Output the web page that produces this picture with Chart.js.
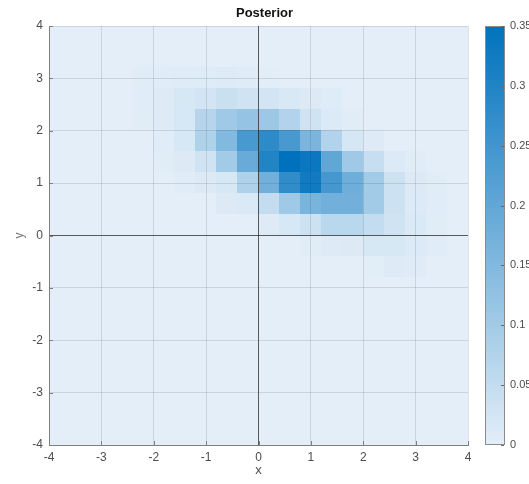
<!DOCTYPE html>
<html>
<head>
<meta charset="utf-8">
<script src="https://cdn.jsdelivr.net/npm/chart.js@4.4.0/dist/chart.umd.min.js"></script>
<style>
  html, body { margin: 0; padding: 0; background: #fff; }
  canvas { display: block; }
</style>
</head>
<body>
<canvas id="post" width="529" height="484"></canvas>
<script>
// bin centres of the 2-D histogram (0.4 wide bins)
const xBins = [-3.8, -3.4, -3.0, -2.6, -2.2, -1.8, -1.4, -1.0, -0.6, -0.2,
                0.2,  0.6,  1.0,  1.4,  1.8,  2.2,  2.6,  3.0,  3.4,  3.8];
const yBins = [ 3.8,  3.4,  3.0,  2.6,  2.2,  1.8,  1.4,  1.0,  0.6,  0.2,
               -0.2, -0.6, -1.0, -1.4, -1.8, -2.2, -2.6, -3.0, -3.4, -3.8];
const binWidth = 0.4;

// posterior mass per bin, one row per yBins entry (top row first)
const density = [
  [0,0,0,0,0,0,0,0,0,0,0,0,0,0,0,0,0,0,0,0],
  [0,0,0,0,0,0,0,0,0,0,0,0,0,0,0,0,0,0,0,0],
  [0,0,0,0,0.004,0.005,0.006,0.007,0.008,0.006,0.003,0,0,0,0,0,0,0,0,0],
  [0,0,0,0,0.005,0.008,0.018,0.025,0.040,0.030,0.025,0.016,0.010,0.007,0,0,0,0,0,0],
  [0,0,0,0,0.004,0.008,0.020,0.070,0.105,0.120,0.110,0.075,0.030,0.012,0.004,0,0,0,0,0],
  [0,0,0,0,0,0.005,0.020,0.080,0.150,0.240,0.280,0.240,0.160,0.075,0.022,0.008,0,0,0,0],
  [0,0,0,0,0,0.004,0.010,0.030,0.100,0.190,0.300,0.350,0.335,0.200,0.105,0.045,0.012,0.004,0,0],
  [0,0,0,0,0,0,0.005,0.010,0.018,0.080,0.175,0.275,0.325,0.245,0.180,0.100,0.035,0.010,0.004,0],
  [0,0,0,0,0,0,0,0,0.010,0.015,0.050,0.105,0.165,0.175,0.175,0.100,0.035,0.012,0.005,0],
  [0,0,0,0,0,0,0,0,0,0,0.008,0.020,0.035,0.065,0.065,0.050,0.030,0.015,0.004,0],
  [0,0,0,0,0,0,0,0,0,0,0,0,0.004,0.008,0.010,0.018,0.018,0.012,0.005,0],
  [0,0,0,0,0,0,0,0,0,0,0,0,0,0,0,0.003,0.008,0.006,0,0],
  [0,0,0,0,0,0,0,0,0,0,0,0,0,0,0,0,0,0,0,0],
  [0,0,0,0,0,0,0,0,0,0,0,0,0,0,0,0,0,0,0,0],
  [0,0,0,0,0,0,0,0,0,0,0,0,0,0,0,0,0,0,0,0],
  [0,0,0,0,0,0,0,0,0,0,0,0,0,0,0,0,0,0,0,0],
  [0,0,0,0,0,0,0,0,0,0,0,0,0,0,0,0,0,0,0,0],
  [0,0,0,0,0,0,0,0,0,0,0,0,0,0,0,0,0,0,0,0],
  [0,0,0,0,0,0,0,0,0,0,0,0,0,0,0,0,0,0,0,0],
  [0,0,0,0,0,0,0,0,0,0,0,0,0,0,0,0,0,0,0,0]
];

const axisTicks = [-4, -3, -2, -1, 0, 1, 2, 3, 4];
const cbTicks = [0, 0.05, 0.1, 0.15, 0.2, 0.25, 0.3, 0.35];
const cMax = 0.35;

// linear white-ish -> blue colormap
const lo = [227, 238, 248], hi = [0, 114, 189];
function colorFor(v) {
  const t = Math.max(0, Math.min(1, v / cMax));
  const c = lo.map((a, i) => Math.round(a + (hi[i] - a) * t));
  return `rgb(${c[0]},${c[1]},${c[2]})`;
}

const cells = [];
yBins.forEach((y, r) => xBins.forEach((x, c) => cells.push({ x, y, v: density[r][c] })));

const FONT = 'Liberation Sans, Arial, sans-serif';
const TXT = '#4d4d4d';

// heat cells go under the grid, colorbar + inner ticks on top
const heatmap = {
  id: 'heatmap',
  beforeDraw(chart) {
    const { ctx, scales: { x, y } } = chart;
    const pts = chart.data.datasets[0].data;
    ctx.save();
    for (const p of pts) {
      const x0 = x.getPixelForValue(p.x - binWidth / 2);
      const x1 = x.getPixelForValue(p.x + binWidth / 2);
      const y0 = y.getPixelForValue(p.y + binWidth / 2);
      const y1 = y.getPixelForValue(p.y - binWidth / 2);
      ctx.fillStyle = colorFor(p.v);
      ctx.fillRect(Math.floor(x0), Math.floor(y0), Math.ceil(x1) - Math.floor(x0), Math.ceil(y1) - Math.floor(y0));
    }
    ctx.restore();
  },
  afterDraw(chart) {
    const { ctx, chartArea: a, scales: { x, y, cb } } = chart;
    ctx.save();
    // inward tick marks
    ctx.strokeStyle = '#7f7f7f';
    ctx.lineWidth = 1;
    ctx.beginPath();
    for (const v of axisTicks) {
      const px = Math.round(x.getPixelForValue(v)) + 0.5;
      ctx.moveTo(px, a.bottom); ctx.lineTo(px, a.bottom - 4);
      const py = Math.round(y.getPixelForValue(v)) + 0.5;
      ctx.moveTo(a.left, py); ctx.lineTo(a.left + 4, py);
    }
    ctx.stroke();

    // colorbar
    const bx0 = a.right + 17, bx1 = a.right + 37;
    const top = cb.getPixelForValue(cMax), bot = cb.getPixelForValue(0);
    const g = ctx.createLinearGradient(0, bot, 0, top);
    g.addColorStop(0, colorFor(0));
    g.addColorStop(1, colorFor(cMax));
    ctx.fillStyle = g;
    ctx.fillRect(bx0, top, bx1 - bx0, bot - top);
    ctx.strokeStyle = '#8c8c8c';
    ctx.strokeRect(bx0 + 0.5, top + 0.5, bx1 - bx0 - 1, bot - top - 1);
    ctx.strokeStyle = '#6a6a6a';
    ctx.beginPath();
    for (const v of cbTicks) {
      const py = Math.round(cb.getPixelForValue(v)) + 0.5;
      ctx.moveTo(bx1 - 1, py); ctx.lineTo(bx1 - 4, py);
    }
    ctx.stroke();
    ctx.restore();
  }
};

const gridColor = c => c.tick && c.tick.value === 0 ? 'rgba(40,40,40,0.75)' : 'rgba(40,40,40,0.13)';

new Chart(document.getElementById('post'), {
  type: 'scatter',
  data: { datasets: [{ data: cells, pointRadius: 0, pointHoverRadius: 0 }] },
  options: {
    responsive: false,
    animation: false,
    events: [],
    layout: { padding: 0 },
    plugins: {
      legend: { display: false },
      tooltip: { enabled: false },
      title: {
        display: true, text: 'Posterior', color: '#111',
        font: { family: FONT, size: 13, weight: 'bold' },
        padding: { top: 6, bottom: 4.4 }
      }
    },
    scales: {
      x: {
        type: 'linear', min: -4, max: 4,
        afterBuildTicks: s => { s.ticks = axisTicks.map(v => ({ value: v })); },
        afterFit: s => { s.height = 39; },
        grid: { color: gridColor, drawTicks: false },
        border: { display: true, color: '#7f7f7f' },
        ticks: { color: TXT, padding: 5, font: { family: FONT, size: 12 } },
        title: { display: true, text: 'x', color: TXT, padding: { top: 0, bottom: 6 }, font: { family: FONT, size: 13 } }
      },
      y: {
        type: 'linear', min: -4, max: 4,
        afterBuildTicks: s => { s.ticks = axisTicks.map(v => ({ value: v })); },
        afterFit: s => { s.width = 49; },
        grid: { color: gridColor, drawTicks: false },
        border: { display: true, color: '#7f7f7f' },
        ticks: { color: TXT, padding: 6, font: { family: FONT, size: 12 } },
        title: { display: true, text: 'y', color: '#777', padding: { top: 12, bottom: 0 }, font: { family: FONT, size: 12 } }
      },
      cb: {
        type: 'linear', position: 'right', min: 0, max: cMax,
        afterBuildTicks: s => { s.ticks = cbTicks.map(v => ({ value: v })); },
        afterFit: s => { s.width = 61; },
        grid: { drawOnChartArea: false, drawTicks: true, tickLength: 37, tickColor: 'rgba(0,0,0,0)' },
        border: { display: false },
        ticks: { color: TXT, padding: 5, callback: v => String(v), font: { family: FONT, size: 11 } }
      }
    }
  },
  plugins: [heatmap]
});
</script>
</body>
</html>
